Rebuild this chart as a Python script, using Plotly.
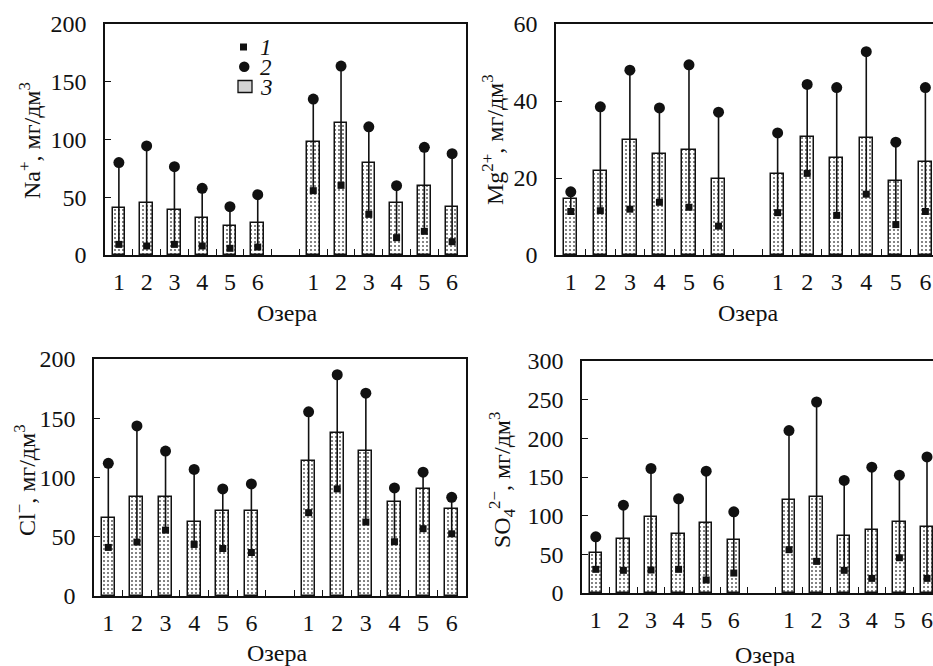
import plotly.graph_objects as go

# ---------------- data ----------------
lakes = ["1", "2", "3", "4", "5", "6"]
tick_labels = lakes + lakes

na_mean = [41, 44.7, 39, 32, 25.4, 27.7, 98, 114, 80, 44.7, 59.5, 41.3]
na_max = [80, 94.4, 76.5, 57.7, 41.8, 52.2, 135, 163.6, 111, 60, 93.2, 87.7]
na_min = [9.2, 7.8, 9.2, 7.8, 5.8, 6.9, 55.7, 60.3, 35.2, 15, 20.5, 11.5]

mg_mean = [14.5, 21.9, 30, 26.3, 27.4, 19.8, 21, 30.7, 25.3, 30.5, 19.1, 24.2]
mg_max = [16.4, 38.5, 48, 38.2, 49.4, 37.1, 31.7, 44.3, 43.5, 52.8, 29.3, 43.5]
mg_min = [11.3, 11.5, 11.9, 13.7, 12.4, 7.5, 11, 21.2, 10.3, 15.8, 7.9, 11.3]

cl_mean = [65.8, 83.6, 83.6, 62.4, 71.5, 71.5, 113.6, 137.9, 122.6, 79.1, 90.4, 73.4]
cl_max = [112, 143.5, 122.3, 106.8, 90.4, 94.6, 155.4, 186.7, 171.2, 91.2, 104.5, 83.3]
cl_min = [41, 45.5, 55.6, 43.5, 40.1, 36.7, 70.3, 90.4, 62.4, 45.8, 56.8, 52.5]

so4_mean = [51.2, 69.7, 98.6, 76.6, 90.4, 68, 120.5, 124, 73.2, 81.3, 91.7, 84.8]
so4_max = [72.7, 113.6, 161, 121.8, 157.5, 105, 210, 247, 145.5, 162.7, 152.4, 176]
so4_min = [30.6, 29.3, 29.7, 30.6, 16.8, 25.8, 56, 40.9, 29.3, 18.9, 45.6, 18.9]

y_titles = [
    "Na<sup>+</sup>, мг/дм<sup>3</sup>",
    "Mg<sup>2+</sup>, мг/дм<sup>3</sup>",
    "Cl<sup>−</sup>, мг/дм<sup>3</sup>",
    "SO<sub>4</sub><sup>2−</sup>, мг/дм<sup>3</sup>",
]
x_title = "Озера"
legend_labels = ["1", "2", "3"]

# ---------------- layout helpers ----------------
W, H = 933, 666
FONT = "Liberation Serif, Times New Roman, serif"
FS = 24


def px(x):
    return x / W


def py(y):
    return 1 - y / H


positions = list(range(6)) + [i + 7 for i in range(6)]
minor_ticks = [i + 0.5 for i in range(12)]

panels = [
    dict(data=(na_mean, na_max, na_min), yr=[0, 200], dt=50,
         xd=[px(105), px(466)], yd=[py(255), py(24)], xr=[-0.5, 12.5], mirror_y=True,
         ytitle=(30, 140), xtitle=(287, 313)),
    dict(data=(mg_mean, mg_max, mg_min), yr=[0, 60], dt=20,
         xd=[px(556), 1.0], yd=[py(255), py(24)], xr=[-0.5, -0.5 + (933 - 556) / 29.55], mirror_y=False,
         ytitle=(493, 140), xtitle=(748, 313)),
    dict(data=(cl_mean, cl_max, cl_min), yr=[0, 200], dt=50,
         xd=[px(94), px(466)], yd=[py(596), py(359)], xr=[-0.5, 12.5], mirror_y=True,
         ytitle=(25, 480), xtitle=(277, 653)),
    dict(data=(so4_mean, so4_max, so4_min), yr=[0, 300], dt=50,
         xd=[px(582), 1.0], yd=[py(593), py(361)], xr=[-0.5, -0.5 + (933 - 582) / 27.6], mirror_y=False,
         ytitle=(502, 480), xtitle=(765, 655)),
]

fig = go.Figure()
annotations = []
BLACK = "#111111"

for k, p in enumerate(panels):
    n = "" if k == 0 else str(k + 1)
    xa, ya = "x" + n, "y" + n
    mean, mx, mn = p["data"]

    fig.add_trace(go.Bar(
        x=positions, y=mean, xaxis=xa, yaxis=ya, width=0.45,
        marker=dict(color="white", line=dict(color=BLACK, width=1.5),
                    pattern=dict(shape=".", fgcolor="#666666", bgcolor="white",
                                 size=4, solidity=0.22)),
        showlegend=False, hoverinfo="skip"))
    fig.add_trace(go.Scatter(
        x=positions, y=mn, xaxis=xa, yaxis=ya, mode="markers",
        marker=dict(symbol="square", size=7, color=BLACK),
        error_y=dict(type="data", symmetric=False,
                     array=[a - b for a, b in zip(mx, mn)], arrayminus=[0] * len(mn),
                     width=0, thickness=1.6, color=BLACK),
        showlegend=False, hoverinfo="skip"))
    fig.add_trace(go.Scatter(
        x=positions, y=mx, xaxis=xa, yaxis=ya, mode="markers",
        marker=dict(symbol="circle", size=11, color=BLACK),
        showlegend=False, hoverinfo="skip"))

    fig.layout["xaxis" + n] = dict(
        domain=p["xd"], range=p["xr"], anchor=ya, automargin=False,
        tickmode="array", tickvals=positions, ticktext=tick_labels,
        ticks="", showgrid=False, zeroline=False,
        showline=True, linecolor=BLACK, linewidth=1.6, mirror=True,
        tickfont=dict(family=FONT, size=FS, color=BLACK), ticklabelstandoff=4,
        minor=dict(tickvals=minor_ticks, ticks="inside", ticklen=6, tickwidth=1.3,
                   tickcolor=BLACK, showgrid=False),
    )
    fig.layout["yaxis" + n] = dict(
        domain=p["yd"], range=p["yr"], dtick=p["dt"], anchor=xa, automargin=False,
        ticks="inside", ticklen=6, tickwidth=1.3, tickcolor=BLACK,
        showgrid=False, zeroline=False,
        showline=True, linecolor=BLACK, linewidth=1.6, mirror=p["mirror_y"],
        tickfont=dict(family=FONT, size=FS, color=BLACK), ticklabelstandoff=12,
    )
    tx, ty = p["ytitle"]
    annotations.append(dict(text=y_titles[k], x=px(tx), y=py(ty), xref="paper", yref="paper",
                            textangle=-90, showarrow=False, xanchor="center", yanchor="middle",
                            font=dict(family=FONT, size=FS, color=BLACK)))
    ax_, ay_ = p["xtitle"]
    annotations.append(dict(text=x_title, x=px(ax_), y=py(ay_), xref="paper", yref="paper",
                            showarrow=False, xanchor="center", yanchor="middle",
                            font=dict(family=FONT, size=FS, color=BLACK)))

# ---------------- legend (drawn manually in panel 1) ----------------
shapes = [
    dict(type="rect", xref="paper", yref="paper", x0=px(240), x1=px(247), y0=py(50.5), y1=py(43.5),
         fillcolor=BLACK, line=dict(width=0)),
    dict(type="circle", xref="paper", yref="paper", x0=px(239), x1=px(249.5), y0=py(72), y1=py(61.5),
         fillcolor=BLACK, line=dict(width=0)),
    dict(type="rect", xref="paper", yref="paper", x0=px(238), x1=px(252), y0=py(92.5), y1=py(80.5),
         fillcolor="#d4d4d4", line=dict(color=BLACK, width=1.3)),
]
for lbl, yy in zip(legend_labels, [47, 67, 87]):
    annotations.append(dict(text="<i>" + lbl + "</i>", x=px(258), y=py(yy), xref="paper", yref="paper",
                            showarrow=False, xanchor="left", yanchor="middle",
                            font=dict(family=FONT, size=23, color=BLACK)))

fig.update_layout(
    template="none",
    width=W, height=H, margin=dict(l=0, r=0, t=0, b=0, autoexpand=False),
    paper_bgcolor="white", plot_bgcolor="white",
    showlegend=False, bargap=0, annotations=annotations, shapes=shapes,
    font=dict(family=FONT, size=FS, color=BLACK),
)

# remove the browser's default 8px body margin so the 933x666 figure fills the window exactly
fig.write_html("out.html",
               config={"displayModeBar": False},
               post_script="document.body.style.margin='0';document.body.style.overflow='hidden';")
